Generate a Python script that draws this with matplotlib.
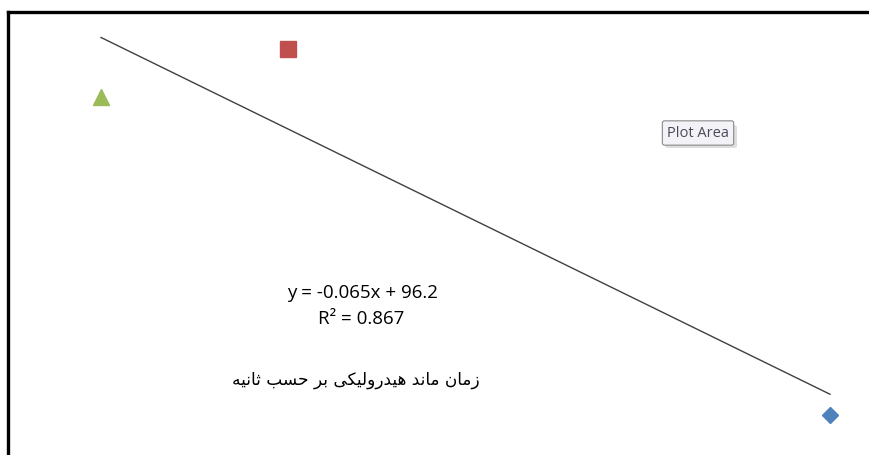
import numpy as np
import matplotlib.pyplot as plt
from matplotlib.lines import Line2D
from matplotlib.patches import FancyBboxPatch

# данные: время гидравлического удерживания (с) и эффективность
x_vals = [120, 300, 820]
y_vals = [80.7, 86.9, 40.1]
eq_text = 'y = -0.065x + 96.2'
r2_text = 'R² = 0.867'
fa_label = 'زمان ماند هیدرولیکی بر حسب ثانیه'

colors = ['#9BBB59', '#C0504D', '#4F81BD']
markers = ['^', 's', 'D']
sizes = [11, 11, 8.5]

# простая арабская/персидская форма букв (matplotlib не соединяет буквы сам)
forms = {
    'ا': ('\uFE8D', '\uFE8E', None, None),
    'ب': ('\uFE8F', '\uFE90', '\uFE91', '\uFE92'),
    'ث': ('\uFE99', '\uFE9A', '\uFE9B', '\uFE9C'),
    'ح': ('\uFEA1', '\uFEA2', '\uFEA3', '\uFEA4'),
    'د': ('\uFEA9', '\uFEAA', None, None),
    'ر': ('\uFEAD', '\uFEAE', None, None),
    'ز': ('\uFEAF', '\uFEB0', None, None),
    'س': ('\uFEB1', '\uFEB2', '\uFEB3', '\uFEB4'),
    'ل': ('\uFEDD', '\uFEDE', '\uFEDF', '\uFEE0'),
    'م': ('\uFEE1', '\uFEE2', '\uFEE3', '\uFEE4'),
    'ن': ('\uFEE5', '\uFEE6', '\uFEE7', '\uFEE8'),
    'ه': ('\uFEE9', '\uFEEA', '\uFEEB', '\uFEEC'),
    'و': ('\uFEED', '\uFEEE', None, None),
    'ی': ('\uFBFC', '\uFBFD', '\uFBFE', '\uFBFF'),
    'ک': ('\uFB8E', '\uFB8F', '\uFB90', '\uFB91'),
}


def shape(text):
    out = []
    for i, ch in enumerate(text):
        if ch not in forms:
            out.append(ch)
            continue
        prev = text[i - 1] if i > 0 else ' '
        nxt = text[i + 1] if i + 1 < len(text) else ' '
        join_prev = prev in forms and forms[prev][2] is not None
        join_next = forms[ch][2] is not None and nxt in forms
        iso, fin, ini, med = forms[ch]
        if join_prev and join_next:
            out.append(med)
        elif join_prev:
            out.append(fin)
        elif join_next:
            out.append(ini)
        else:
            out.append(iso)
    return ''.join(out)[::-1]


fig = plt.figure(figsize=(8.7, 4.55), dpi=100)
ax = fig.add_axes([0, 0, 1, 1])
ax.set_xlim(23.0, 858.4)
ax.set_ylim(34.98, 93.13)
ax.axis('off')

for x, y, c, m, s in zip(x_vals, y_vals, colors, markers, sizes):
    ax.plot(x, y, marker=m, color=c, markersize=s, linestyle='none')

# линейный тренд
k, b = np.polyfit(x_vals, y_vals, 1)
xt = np.array([min(x_vals), max(x_vals)])
ax.plot(xt, k * xt + b, color='#404040', linewidth=1.0)

ax.text(362 / 870, 1 - 293 / 455, eq_text, transform=ax.transAxes,
        ha='center', va='center', fontsize=13.5, family='Open Sans')
ax.text(361 / 870, 1 - 319 / 455, r2_text, transform=ax.transAxes,
        ha='center', va='center', fontsize=13.5, family='Open Sans')
ax.text(356 / 870, 1 - 380 / 455, shape(fa_label), transform=ax.transAxes,
        ha='center', va='center', fontsize=12.2, family=['DejaVu Sans', 'Noto Sans'])

# подсказка "Plot Area" (с тенью)
fig.add_artist(FancyBboxPatch((665 / 870, 1 - 148 / 455), 72 / 870, 23 / 455,
                              boxstyle='round,pad=0,rounding_size=0.004',
                              transform=fig.transFigure, facecolor='#c8c8c8',
                              edgecolor='none', alpha=0.6))
fig.text(698 / 870, 1 - 133 / 455, 'Plot Area', ha='center', va='center',
         fontsize=10.5, color='#4a4a5a', family='Open Sans',
         bbox=dict(boxstyle='round,pad=0.32,rounding_size=0.15',
                   facecolor='#f3f3f7', edgecolor='#8a8a8a', linewidth=0.8))

# рамка диаграммы
fig.add_artist(Line2D([8.5 / 870, 1.0], [1 - 11.5 / 455] * 2,
                      transform=fig.transFigure, color='black', linewidth=2.4))
fig.add_artist(Line2D([8.5 / 870] * 2, [1 - 11.5 / 455, 0],
                      transform=fig.transFigure, color='black', linewidth=2.4))

fig.savefig('out.png', dpi=100)
